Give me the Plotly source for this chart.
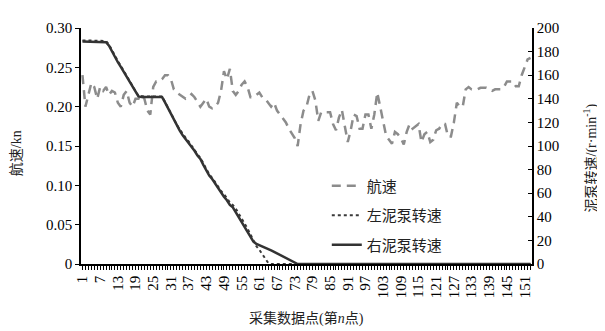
import plotly.graph_objects as go

# ---- data ----
points = list(range(1, 154))

speed_kn = [
    0.240, 0.200, 0.215, 0.230, 0.225, 0.210, 0.225, 0.220, 0.225, 0.215,
    0.220, 0.218, 0.205, 0.200, 0.215, 0.220, 0.205, 0.200, 0.210, 0.210,
    0.215, 0.210, 0.195, 0.190, 0.225, 0.232, 0.232, 0.235, 0.240, 0.240,
    0.235, 0.222, 0.218, 0.215, 0.212, 0.210, 0.212, 0.216, 0.212, 0.205,
    0.200, 0.205, 0.210, 0.200, 0.198, 0.200, 0.205, 0.220, 0.245, 0.235,
    0.248, 0.220, 0.215, 0.220, 0.228, 0.232, 0.225, 0.212, 0.212, 0.215,
    0.218, 0.212, 0.210, 0.205, 0.200, 0.205, 0.195, 0.190, 0.185, 0.180,
    0.172, 0.165, 0.160, 0.150, 0.178, 0.195, 0.200, 0.215, 0.220, 0.208,
    0.182, 0.193, 0.193, 0.193, 0.193, 0.178, 0.170, 0.186, 0.196, 0.175,
    0.155, 0.170, 0.190, 0.188, 0.172, 0.172, 0.190, 0.190, 0.172, 0.190,
    0.218, 0.200, 0.180, 0.163, 0.158, 0.153, 0.168, 0.165, 0.160, 0.152,
    0.168, 0.178, 0.172, 0.175, 0.178, 0.155, 0.165, 0.168, 0.155, 0.158,
    0.170, 0.172, 0.178, 0.178, 0.162, 0.162, 0.180, 0.205, 0.200, 0.200,
    0.222, 0.225, 0.222, 0.222, 0.222, 0.224, 0.224, 0.224, 0.222, 0.220,
    0.222, 0.222, 0.222, 0.225, 0.232, 0.232, 0.232, 0.226, 0.226, 0.240,
    0.250, 0.260, 0.262,
]

right_pump = [
    188.5, 188.5, 188.5, 188.5, 188.5, 188.5, 188.5, 188.5, 188.0, 185.0,
    180.0, 175.0, 171.0, 167.0, 163.0, 158.0, 154.0, 150.0, 146.0, 142.0,
    141.5, 141.5, 141.5, 141.5, 141.5, 141.5, 141.5, 141.5, 137.0, 132.0,
    127.0, 122.0, 117.0, 113.0, 109.0, 106.0, 103.0, 99.0, 96.0, 92.0,
    89.0, 84.0, 79.0, 75.0, 72.0, 68.0, 64.0, 61.0, 57.0, 54.0,
    50.0, 48.0, 44.0, 40.0, 36.0, 31.0, 28.0, 23.0, 19.0, 17.0,
    16.0, 15.0, 13.8, 12.6, 11.5, 10.3, 9.0, 7.7, 6.3, 5.0,
    3.7, 2.5, 1.2, 0.0,
] + [0.0] * 79

left_pump = [
    189.5, 189.5, 189.5, 189.5, 189.5, 189.5, 189.5, 189.5, 189.0, 186.0,
    181.0, 176.0, 172.0, 168.0, 163.5, 159.0, 155.0, 150.5, 146.5, 142.5,
    142.0, 142.0, 142.0, 142.0, 142.0, 142.0, 142.0, 142.0, 137.5, 132.5,
    128.0, 123.0, 118.0, 114.0, 110.0, 107.0, 104.0, 100.0, 97.0, 93.0,
    90.0, 85.0, 80.0, 76.0, 73.0, 69.0, 65.0, 62.0, 59.0, 56.0,
    52.0, 50.0, 47.0, 43.0, 39.0, 34.0, 30.0, 25.0, 20.0, 15.0,
    12.0, 8.0, 4.5, 1.0, 0.0,
] + [0.0] * 88

xtick_vals = points
xtick_text = [str(p) if (p - 1) % 6 == 0 else " " for p in points]
ytick_vals = [0, 0.05, 0.10, 0.15, 0.20, 0.25, 0.30]
ytick_text = ["0", "0.05", "0.10", "0.15", "0.20", "0.25", "0.30"]
y2tick_vals = [0, 20, 40, 60, 80, 100, 120, 140, 160, 180, 200]

SERIF = "Liberation Serif"
CJK = "Liberation Serif, Noto Sans CJK SC"

fig = go.Figure()
fig.add_trace(go.Scatter(
    x=points, y=speed_kn, mode="lines", name="航速", legendgroup="a",
    line=dict(color="#8c8c8c", width=2.5, dash="9px,6px"), yaxis="y",
))
fig.add_trace(go.Scatter(
    x=points, y=left_pump, mode="lines", name="左泥泵转速", legendgroup="b",
    line=dict(color="#3a3a3a", width=2, dash="dot"), yaxis="y2",
))
fig.add_trace(go.Scatter(
    x=points, y=right_pump, mode="lines", name="右泥泵转速", legendgroup="c",
    line=dict(color="#333333", width=2.5), yaxis="y2",
))

axis_common = dict(showgrid=False, zeroline=False, showline=True,
                   linecolor="black", linewidth=1.5,
                   tickfont=dict(family=SERIF, size=15, color="black"))

# page body has an 8px default margin; the figure is sized/offset for it
fig.update_layout(
    width=597, height=323,
    margin=dict(l=73, r=73, t=13, b=67),
    paper_bgcolor="white", plot_bgcolor="white",
    font=dict(family=SERIF, size=15, color="black"),
    showlegend=True,
    legend=dict(x=0.545, y=0.40, xanchor="left", yanchor="top",
                bgcolor="rgba(0,0,0,0)", tracegroupgap=7,
                font=dict(family=CJK, size=15, color="#222")),
    xaxis=dict(range=[0.5, 153.5], tickmode="array", tickvals=xtick_vals,
               ticktext=xtick_text, ticks="outside", ticklen=4, tickwidth=1,
               tickcolor="black", tickangle=-90, **axis_common),
    yaxis=dict(range=[0, 0.30], tickmode="array", tickvals=ytick_vals,
               ticktext=ytick_text, ticks="outside", ticklen=4, tickwidth=1.2,
               tickcolor="black", **axis_common),
    yaxis2=dict(range=[0, 200], tickmode="array", tickvals=y2tick_vals,
                overlaying="y", side="right", ticks="inside", ticklen=4,
                tickwidth=1.2, tickcolor="black", **axis_common),
    annotations=[
        dict(text="航速/kn", xref="paper", yref="paper", x=-0.144, y=0.47,
             textangle=-90, showarrow=False, xanchor="center", yanchor="middle",
             font=dict(family=CJK, size=14, color="#222")),
        dict(text="泥泵转速/(r·min<sup>-1</sup>)", xref="paper", yref="paper",
             x=1.13, y=0.45, textangle=-90, showarrow=False,
             xanchor="center", yanchor="middle",
             font=dict(family=CJK, size=14, color="#222")),
        dict(text="采集数据点(第<i>n</i>点)", xref="paper", yref="paper",
             x=0.5, y=-0.23, showarrow=False, xanchor="center", yanchor="middle",
             font=dict(family=CJK, size=14, color="#222")),
    ],
)

fig.write_html("out.html")
